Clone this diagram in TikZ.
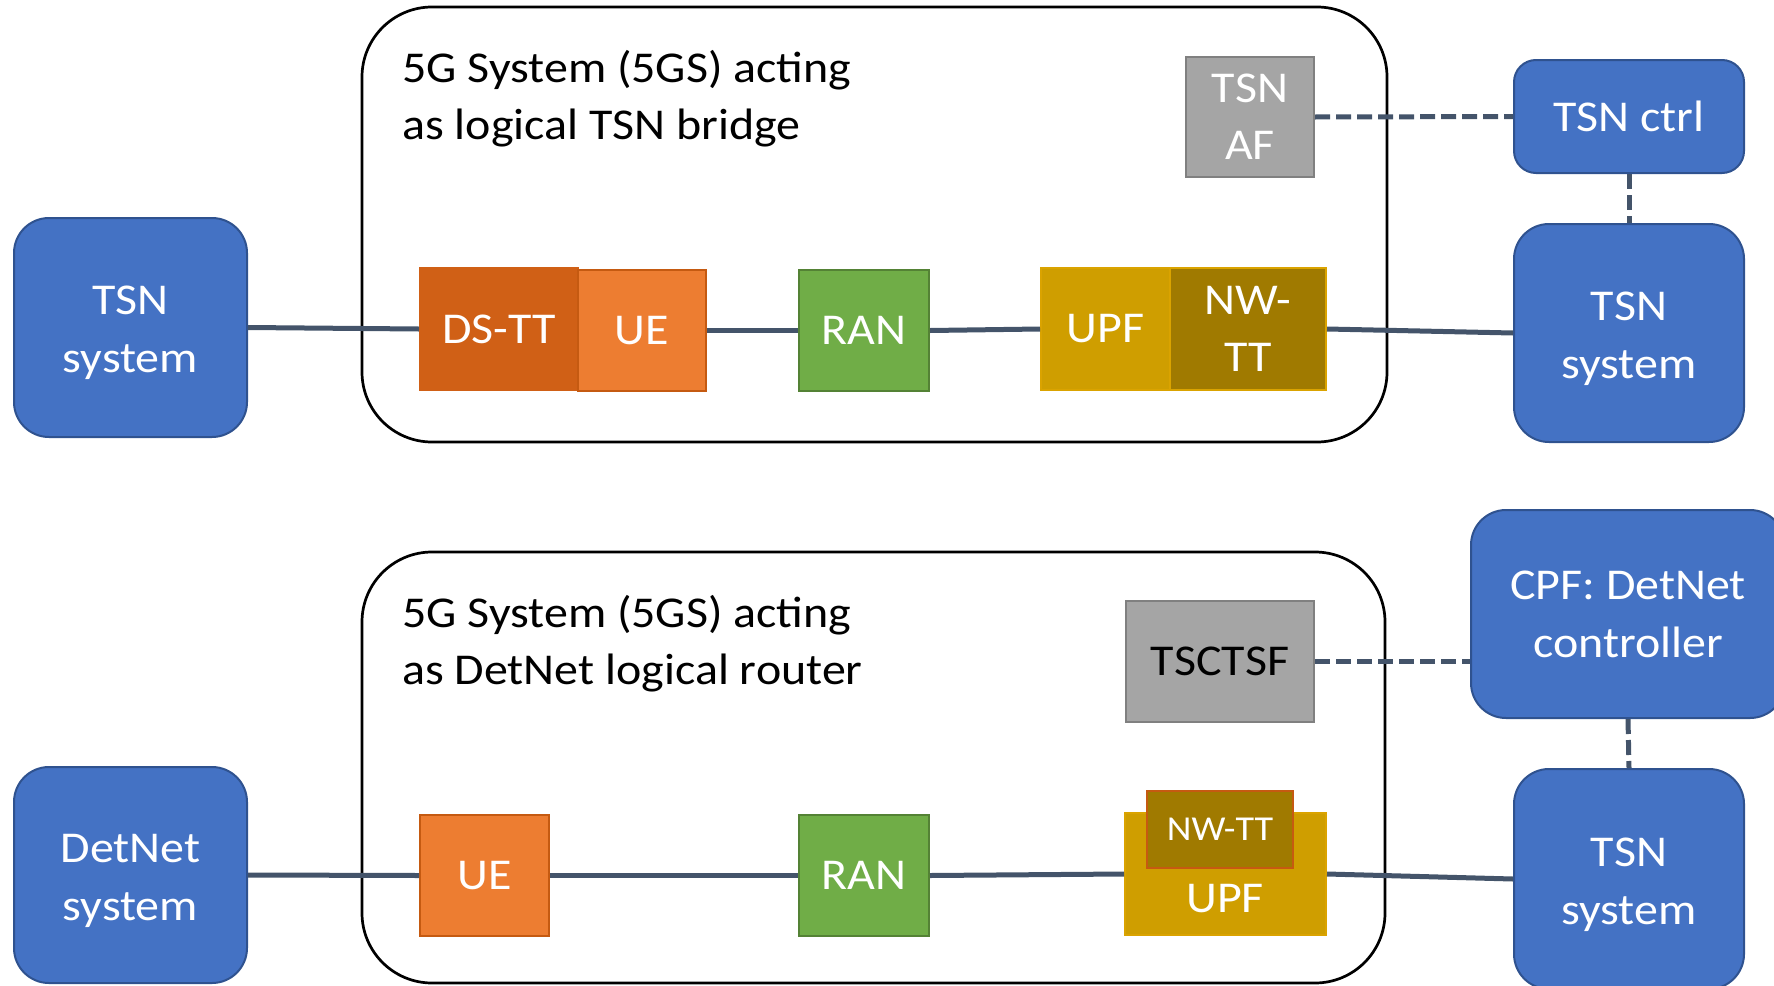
\documentclass[tikz,border=0pt]{standalone}
\usepackage{fontspec}
\setmainfont{Carlito}[FakeStretch=1.09]
\definecolor{sysblue}{HTML}{4472C4}
\definecolor{sysedge}{HTML}{2F528F}
\definecolor{linkgray}{HTML}{44546A}
\definecolor{dsttfill}{HTML}{D06016}
\definecolor{uefill}{HTML}{ED7D31}
\definecolor{ueedge}{HTML}{C55A11}
\definecolor{ranfill}{HTML}{70AD47}
\definecolor{ranedge}{HTML}{548235}
\definecolor{upffill}{HTML}{CF9E00}
\definecolor{upfedge}{HTML}{DAA300}
\definecolor{nwttfill}{HTML}{A07A00}
\definecolor{affill}{HTML}{A5A5A5}
\definecolor{afedge}{HTML}{808080}
\newcommand{\sysstrut}{\rule{0pt}{40pt}}
\tikzset{
  wh/.style 2 args={minimum width=#1pt, minimum height=#2pt},
  sysnode/.style={draw=sysedge, fill=sysblue, line width=2pt, rounded corners=35pt,
    text=white, align=center, inner sep=0pt, font=\fontsize{44}{58}\selectfont},
  fnnode/.style={line width=2pt, inner sep=0pt, text=white, align=center,
    font=\fontsize{44}{57}\selectfont},
  gsbox/.style={draw=black, line width=2.7pt, rounded corners=70pt, inner sep=0pt},
  gstitle/.style={anchor=north west, inner sep=0pt, align=left,
    font=\fontsize{44}{57}\selectfont},
  link/.style={draw=linkgray, line width=5pt},
  ctrllink/.style={link, dash pattern=on 15pt off 6pt},
}
\begin{document}
\begin{tikzpicture}[x=1pt,y=-1pt]
\useasboundingbox (0,0) rectangle (1774,985);
% TSN bridge
\node[gsbox, wh={1025}{435}] (gsA) at (874.5,224.5) {};
\node[gstitle] (titleA) at (402,50) {5G System (5GS) acting\\as logical TSN bridge};
\node[sysnode, wh={233}{219}] (tsnL) at (130.5,327.5) {\sysstrut TSN\\system};
\node[fnnode, draw=dsttfill, fill=dsttfill, wh={158}{122}] (dstt) at (499,329) {DS-TT};
\node[fnnode, draw=ueedge, fill=uefill, wh={128}{121}] (ueA) at (642,330.5) {UE};
\node[fnnode, draw=ranedge, fill=ranfill, wh={130}{121}] (ranA) at (864,330.5) {RAN};
\node[fnnode, draw=upfedge, fill=upffill, wh={129}{122}] (upfA) at (1105.5,329) {UPF};
\node[fnnode, draw=upfedge, fill=nwttfill, wh={156}{122}] (nwttA) at (1248,329) {NW-\\TT};
\node[fnnode, draw=afedge, fill=affill, wh={128}{120}] (tsnaf) at (1250,117) {TSN\\AF};
\node[sysnode, rounded corners=22pt, wh={230}{113}] (tsnctrl) at (1629,116.5) {TSN ctrl};
\node[sysnode, wh={230}{218}] (tsnR) at (1629,333) {\sysstrut TSN\\system};
\draw[link] (tsnL.east) -- (dstt.west);
\draw[link] (ueA.east) -- (ranA.west);
\draw[link] (ranA.east) -- (upfA.west);
\draw[link] (nwttA.east) -- (tsnR.west);
\draw[ctrllink] (tsnaf.east) -- (tsnctrl.west);
\draw[ctrllink] (tsnctrl.south) -- (tsnR.north);
% DetNet router
\node[gsbox, wh={1023}{431}] (gsB) at (873.5,767.5) {};
\node[gstitle] (titleB) at (402,595) {5G System (5GS) acting\\as DetNet logical router};
\node[sysnode, wh={233}{216}] (detnet) at (130.5,875) {\sysstrut DetNet\\system};
\node[fnnode, draw=ueedge, fill=uefill, wh={129}{121}] (ueB) at (484.5,875.5) {UE};
\node[fnnode, draw=ranedge, fill=ranfill, wh={130}{121}] (ranB) at (864,875.5) {RAN};
\node[fnnode, draw=upfedge, fill=upffill, wh={201}{122}] (upfB) at (1225.5,874) {};
\node[fnnode, anchor=base] (upfBtext) at (1225,912) {UPF};
\node[fnnode, draw=ueedge, fill=nwttfill, wh={146}{77}, font=\fontsize{35}{42}\selectfont] (nwttB) at (1220,829.5) {NW-TT};
\node[fnnode, draw=afedge, fill=affill, wh={188}{121}, text=black] (tsctsf) at (1220,661.5) {TSCTSF};
\node[sysnode, wh={314}{208}] (cpf) at (1628,614) {CPF: DetNet\\controller};
\node[sysnode, wh={230}{220}] (tsnB) at (1629,879) {\sysstrut TSN\\system};
\draw[link] (detnet.east) -- (ueB.west);
\draw[link] (ueB.east) -- (ranB.west);
\draw[link] (ranB.east) -- (upfB.west);
\draw[link] (upfB.east) -- (tsnB.west);
\draw[ctrllink] (tsctsf.east) -- (tsctsf.east -| cpf.west);
\draw[ctrllink] (cpf.south) -- (tsnB.north);
\end{tikzpicture}
\end{document}
